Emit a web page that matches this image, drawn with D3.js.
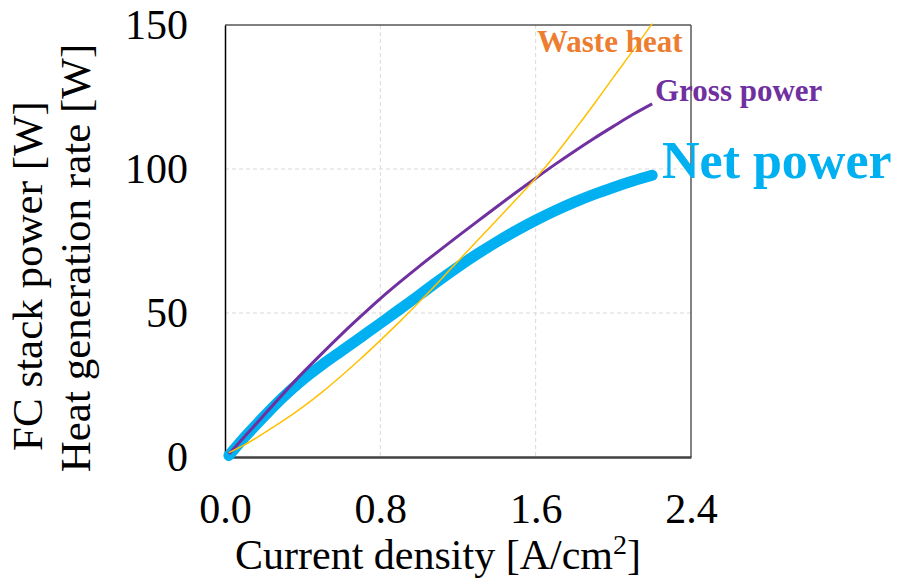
<!DOCTYPE html>
<meta charset="utf-8">
<style>

body {
  margin: 0;
  background: #fff;
}

text {
  font-family: "Liberation Serif", "Times New Roman", serif;
}

.grid line {
  stroke: #d9d9d9;
  stroke-width: 1px;
  stroke-dasharray: 4,3;
}

.axis text {
  font-size: 42px;
  fill: #000;
}

.label {
  font-weight: bold;
}

</style>
<body>
<script src="https://d3js.org/d3.v7.min.js"></script>
<script>

// current density [A/cm2]
var density = [0.02, 0.1, 0.2, 0.3, 0.4, 0.5, 0.6, 0.7, 0.8, 0.9, 1.0, 1.1,
               1.2, 1.3, 1.4, 1.5, 1.6, 1.7, 1.8, 1.9, 2.0, 2.1, 2.2];

// power / heat [W]
var grossPower = [1, 7, 14.5, 22, 29.2, 36, 42.6, 48.9, 55, 60.7, 66.2, 71.5,
                  76.7, 81.8, 86.9, 91.9, 96.8, 101.6, 106.2, 110.6, 114.8, 118.9, 122.6];
var netPower   = [0.5, 6.8, 14, 20.8, 26.8, 32, 36.8, 41.6, 46.4, 51.3, 56.2, 61.2,
                  66, 70.5, 74.7, 78.6, 82.2, 85.5, 88.5, 91.2, 93.6, 95.8, 97.8];
var wasteHeat  = [1.5, 4.2, 8.3, 12.6, 17.3, 22.5, 28.2, 34.2, 40.5, 47, 53.8, 60.8,
                  68, 75.2, 82.3, 89.5, 96.8, 104.8, 113.5, 122.5, 131.8, 141, 150.5];

var xTicks = [0, 0.8, 1.6, 2.4];
var yTicks = [0, 50, 100, 150];

var width = 909,
    height = 584;

var plotLeft = 225, plotRight = 691, plotTop = 25, plotBottom = 457;

var x = d3.scaleLinear()
    .domain([0, 2.4])
    .range([plotLeft, plotRight]);

var y = d3.scaleLinear()
    .domain([0, 150])
    .range([plotBottom, plotTop]);

var svg = d3.select("body").append("svg")
    .attr("width", width)
    .attr("height", height);

// grid
svg.append("g")
    .attr("class", "grid")
    .selectAll("line")
    .data([0.8, 1.6])
  .enter().append("line")
    .attr("x1", function(d) { return x(d); })
    .attr("x2", function(d) { return x(d); })
    .attr("y1", plotTop)
    .attr("y2", plotBottom);

svg.append("g")
    .attr("class", "grid")
    .selectAll("line")
    .data([50, 100])
  .enter().append("line")
    .attr("x1", plotLeft)
    .attr("x2", plotRight)
    .attr("y1", function(d) { return y(d); })
    .attr("y2", function(d) { return y(d); });

// frame
svg.append("line")
    .attr("x1", plotLeft).attr("x2", plotRight)
    .attr("y1", plotTop).attr("y2", plotTop)
    .style("stroke", "#000").style("stroke-width", 1);
svg.append("line")
    .attr("x1", plotRight).attr("x2", plotRight)
    .attr("y1", plotTop).attr("y2", plotBottom)
    .style("stroke", "#595959").style("stroke-width", 1.5);

var xAxis = svg.append("g")
    .attr("class", "axis")
    .attr("transform", "translate(0," + plotBottom + ")")
    .call(d3.axisBottom(x).tickValues(xTicks).tickSize(0).tickPadding(36)
      .tickFormat(d3.format(".1f")));
xAxis.select(".domain").style("stroke", "#404040").style("stroke-width", 2.5);

var yAxis = svg.append("g")
    .attr("class", "axis")
    .attr("transform", "translate(" + plotLeft + ",0)")
    .call(d3.axisLeft(y).tickValues(yTicks).tickSize(0).tickPadding(37));
yAxis.select(".domain").style("stroke", "#000").style("stroke-width", 1.5);

svg.selectAll(".axis text").style("font-family", "'Liberation Serif', serif");

// curves
var line = d3.line()
    .curve(d3.curveMonotoneX)
    .x(function(d) { return x(d[0]); })
    .y(function(d) { return y(d[1]); });

function pairs(v) {
  return density.map(function(d, i) { return [d, v[i]]; });
}

svg.append("path")
    .datum(pairs(netPower))
    .attr("fill", "none")
    .attr("stroke", "#00b0f0")
    .attr("stroke-width", 11)
    .attr("stroke-linecap", "round")
    .attr("d", line);

svg.append("path")
    .datum(pairs(grossPower))
    .attr("fill", "none")
    .attr("stroke", "#7030a0")
    .attr("stroke-width", 3)
    .attr("d", line);

svg.append("path")
    .datum(pairs(wasteHeat))
    .attr("fill", "none")
    .attr("stroke", "#ffc000")
    .attr("stroke-width", 1.5)
    .attr("d", line);

// labels
svg.append("text")
    .attr("class", "label")
    .attr("x", 537)
    .attr("y", 52)
    .style("font-size", "31px")
    .style("fill", "#ed7d31")
    .text("Waste heat");

svg.append("text")
    .attr("class", "label")
    .attr("x", 655)
    .attr("y", 101)
    .style("font-size", "31px")
    .style("fill", "#7030a0")
    .text("Gross power");

svg.append("text")
    .attr("class", "label")
    .attr("x", 662)
    .attr("y", 178)
    .style("font-size", "52px")
    .style("fill", "#00b0f0")
    .text("Net power");

// axis titles
var xTitle = svg.append("text")
    .attr("x", 438)
    .attr("y", 569)
    .attr("text-anchor", "middle")
    .style("font-size", "42px");
xTitle.append("tspan").text("Current density [A/cm");
xTitle.append("tspan").attr("dy", -15).style("font-size", "28px").text("2");
xTitle.append("tspan").attr("dy", 15).text("]");

svg.append("text")
    .attr("transform", "translate(42,276) rotate(-90)")
    .attr("text-anchor", "middle")
    .style("font-size", "43px")
    .text("FC stack power [W]");

svg.append("text")
    .attr("transform", "translate(90,258) rotate(-90)")
    .attr("text-anchor", "middle")
    .style("font-size", "43px")
    .text("Heat generation rate [W]");

</script>
